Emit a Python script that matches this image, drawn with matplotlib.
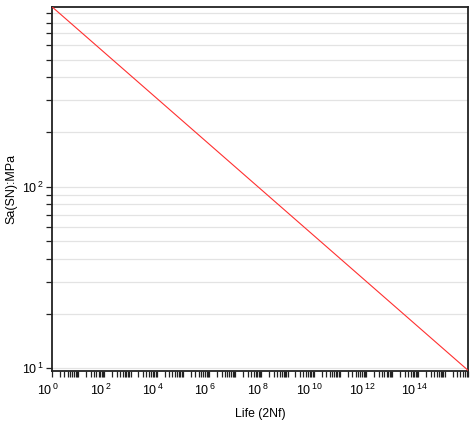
import numpy as np
import matplotlib
matplotlib.use("Agg")
import matplotlib.pyplot as plt
import matplotlib.transforms as mtransforms
from matplotlib.ticker import LogLocator, NullFormatter, FixedLocator, FuncFormatter

# Data: S-N line endpoints (life 2Nf, amplitude MPa)
life = [1.0, 8.0e15]
sa = [980.0, 9.72]
x_major_exponents = [0, 2, 4, 6, 8, 10, 12, 14]
y_major_exponents = [1, 2]

plt.rcParams['font.family'] = ['Liberation Sans', 'DejaVu Sans']
plt.rcParams['mathtext.fontset'] = 'custom'
plt.rcParams['mathtext.rm'] = 'Liberation Sans'
plt.rcParams['mathtext.it'] = 'Liberation Sans:italic'
plt.rcParams['mathtext.bf'] = 'Liberation Sans:bold'

fig = plt.figure(figsize=(4.74, 4.24), dpi=100)
ax = fig.add_axes([0.1097, 0.126, 0.988 - 0.1097, 0.984 - 0.126])

ax.plot(life, sa, color='#ff3030', lw=0.8, zorder=3)
ax.set_xscale('log')
ax.set_yscale('log')
ax.set_xlim(life[0], life[-1])
ax.set_ylim(sa[-1], sa[0])

def fmt(v, pos):
    e = int(round(np.log10(v)))
    return r'$\mathregular{10^{\,%d}}$' % e

ax.xaxis.set_major_locator(FixedLocator([10.0**k for k in x_major_exponents]))
ax.xaxis.set_major_formatter(FuncFormatter(fmt))
ax.xaxis.set_minor_locator(LogLocator(base=10, subs=np.arange(1, 10), numticks=40))
ax.xaxis.set_minor_formatter(NullFormatter())
ax.yaxis.set_major_locator(FixedLocator([10.0**k for k in y_major_exponents]))
ax.yaxis.set_major_formatter(FuncFormatter(fmt))
ax.yaxis.set_minor_locator(LogLocator(base=10, subs=np.arange(2, 10), numticks=20))
ax.yaxis.set_minor_formatter(NullFormatter())

ax.yaxis.grid(True, which='both', color='#e3e3e3', lw=0.9, zorder=0)
ax.xaxis.grid(False)
ax.set_axisbelow(True)

for s in ax.spines.values():
    s.set_linewidth(1.3)
    s.set_color('#222222')

ax.tick_params(axis='both', which='both', direction='out', length=4, width=0.9,
               colors='#222222', labelsize=9, labelcolor='black')
ax.tick_params(axis='x', which='major', pad=5)
ax.tick_params(axis='y', which='major', pad=2)

offset = mtransforms.ScaledTranslation(-4 / 100, 0, fig.dpi_scale_trans)
for lab in ax.get_xticklabels():
    lab.set_transform(lab.get_transform() + offset)

ax.set_xlabel('Life (2Nf)', fontsize=8.8, labelpad=7)
ax.set_ylabel('Sa(SN):MPa', fontsize=9, labelpad=3)

fig.savefig('out.png', dpi=100)
